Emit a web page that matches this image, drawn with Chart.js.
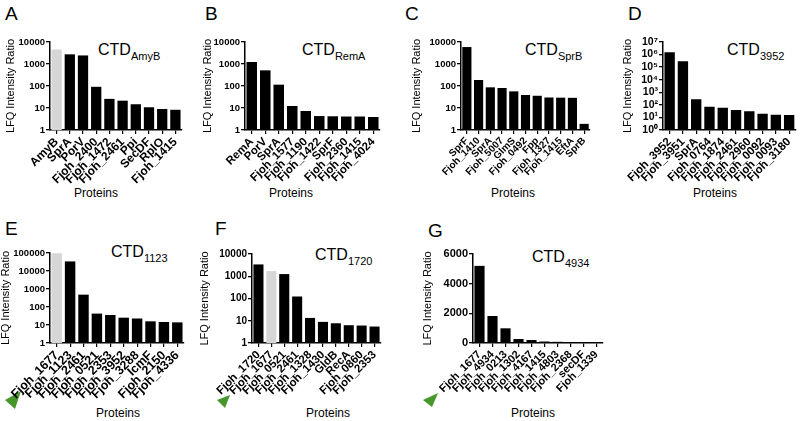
<!DOCTYPE html>
<html>
<head>
<meta charset="utf-8">
<script src="https://cdn.jsdelivr.net/npm/chart.js@4.4.1/dist/chart.umd.min.js"></script>
<style>
  body { margin: 0; background: #fff; }
  #wrap { position: relative; width: 800px; height: 421px; overflow: hidden; background: #fff; }
  #wrap canvas { position: absolute; }
  #overlay { position: absolute; left: 0; top: 0; pointer-events: none; }
  #overlay text { font-family: 'Liberation Sans', Arial, Helvetica, sans-serif; fill: #000; }
</style>
</head>
<body>
<div id="wrap">
  <svg id="overlay" width="800" height="421">
    <text x="5" y="20" font-size="19">A</text>
    <text x="205" y="20" font-size="19">B</text>
    <text x="405" y="20" font-size="19">C</text>
    <text x="628" y="20" font-size="19">D</text>
    <text x="5" y="235" font-size="19">E</text>
    <text x="215" y="235" font-size="19">F</text>
    <text x="428" y="237" font-size="19">G</text>

    <text x="98" y="55" font-size="16">CTD<tspan dy="5" font-size="11">AmyB</tspan></text>
    <text x="302" y="55" font-size="16">CTD<tspan dy="5" font-size="11">RemA</tspan></text>
    <text x="525" y="55" font-size="16">CTD<tspan dy="5" font-size="11">SprB</tspan></text>
    <text x="727" y="55" font-size="16">CTD<tspan dy="5" font-size="11">3952</tspan></text>
    <text x="111" y="257" font-size="16">CTD<tspan dy="5" font-size="11">1123</tspan></text>
    <text x="315" y="260" font-size="16">CTD<tspan dy="5" font-size="11">1720</tspan></text>
    <text x="532" y="262" font-size="16">CTD<tspan dy="5" font-size="11">4934</tspan></text>

    <text x="96" y="197" font-size="12" text-anchor="middle">Proteins</text>
    <text x="291" y="197" font-size="12" text-anchor="middle">Proteins</text>
    <text x="513" y="197" font-size="12" text-anchor="middle">Proteins</text>
    <text x="715" y="197" font-size="12" text-anchor="middle">Proteins</text>
    <text x="118" y="417" font-size="12" text-anchor="middle">Proteins</text>
    <text x="328" y="417" font-size="12" text-anchor="middle">Proteins</text>
    <text x="533" y="417" font-size="12" text-anchor="middle">Proteins</text>

    <polygon points="21,391 5,400 15,409" fill="#46962b"/>
    <polygon points="230,395 217,400 225,408" fill="#46962b"/>
    <polygon points="438,393 423,400 432,407" fill="#46962b"/>
  </svg>
</div>

<script>
// categories and values
const labelsA = ['AmyB', 'SprA', 'PorV', 'Fjoh_2400', 'Fjoh_1472', 'Fjoh_2461', 'Ppi', 'SecDF', 'RplO', 'Fjoh_1415'];
const valuesA = [4600, 2750, 2450, 92, 26, 21.5, 14.8, 10.8, 9, 8.3];

const labelsB = ['RemA', 'PorV', 'SprA', 'Fjoh_1577', 'Fjoh_1190', 'Fjoh_1422', 'SprF', 'Fjoh_2360', 'Fjoh_1415', 'Fjoh_4024'];
const valuesB = [1230, 515, 115, 12.3, 7.3, 4.3, 4.2, 4.1, 4.1, 3.9];

const labelsC = ['SprF', 'Fjoh_1410', 'SprA', 'Fjoh_5007', 'GlmS', 'Fjoh_0492', 'Fpp', 'Fjoh_1327', 'Fjoh_1415', 'EftA', 'SprB'];
const valuesC = [5900, 187, 87, 81, 57, 39, 36, 30, 29.5, 29, 1.9];

const labelsD = ['Fjoh_3952', 'Fjoh_3951', 'SprA', 'Fjoh_0764', 'Fjoh_1874', 'Fjoh_2461', 'Fjoh_2960', 'Fjoh_0092', 'Fjoh_0093', 'Fjoh_3180'];
const valuesD = [1500000, 290000, 280, 72, 60, 39, 31, 20, 16.5, 15.5];

const labelsE = ['Fjoh_1677', 'Fjoh_1123', 'Fjoh_2461', 'Fjoh_0521', 'Fjoh_2353', 'Fjoh_3952', 'Fjoh_3288', 'IcmF', 'Fjoh_2150', 'Fjoh_4336'];
const valuesE = [98000, 34000, 485, 43, 36, 25.5, 23, 16, 14.7, 14];

const labelsF = ['Fjoh_1720', 'Fjoh_1677', 'Fjoh_0521', 'Fjoh_2461', 'Fjoh_1328', 'Fjoh_1430', 'GldB', 'RecA', 'Fjoh_0860', 'Fjoh_2353'];
const valuesF = [3400, 1700, 1250, 123, 13.4, 8.9, 7.7, 6.3, 6.1, 5.5];

const labelsG = ['Fjoh_1677', 'Fjoh_4934', 'Fjoh_0213', 'Fjoh_1302', 'Fjoh_4167', 'Fjoh_1415', 'Fjoh_4803', 'Fjoh_2368', 'secDF', 'Fjoh_1339'];
const valuesG = [5200, 1820, 990, 270, 200, 100, 80, 60, 50, 40];

// tick values / labels
const ticks4 = [1, 10, 100, 1000, 10000];
const ticks5 = [1, 10, 100, 1000, 10000, 100000];
const ticks7 = [1, 10, 100, 1000, 10000, 100000, 1000000, 10000000];
const tickLabelsD = ['10\u2070', '10\u00b9', '10\u00b2', '10\u00b3', '10\u2074', '10\u2075', '10\u2076', '10\u2077'];
const ticksG = [0, 2000, 4000, 6000];

const FONT = "'Liberation Sans', Arial, Helvetica, sans-serif";
Chart.defaults.font.family = FONT;
Chart.defaults.color = '#000';

function makePanel(box, plot, labels, values, grayIndex, yOpts, sizes) {
    const [L, T, W, H] = box;
    const [x0, y0, x1, y1] = plot;
    const canvas = document.createElement('canvas');
    canvas.width = W;
    canvas.height = H;
    canvas.style.left = L + 'px';
    canvas.style.top = T + 'px';
    document.getElementById('wrap').appendChild(canvas);

    const colors = labels.map((_, i) => i === grayIndex ? '#d6d6d6' : '#000');

    const y = {
        min: yOpts.min,
        max: yOpts.max,
        type: yOpts.type,
        afterBuildTicks: s => { s.ticks = yOpts.ticks.map(v => ({ value: v })); },
        afterFit: s => { s.width = x0 - L; },
        ticks: {
            autoSkip: false,
            padding: 1,
            font: { size: sizes.yTick, weight: 'bold' },
            callback: yOpts.format
        },
        grid: { drawOnChartArea: false, drawTicks: true, tickLength: 4, color: '#000', lineWidth: 1.3 },
        border: { display: true, color: '#000', width: 1.5 },
        title: {
            display: true,
            text: 'LFQ Intensity Ratio',
            font: { size: 11 },
            padding: { top: sizes.titleX - L - 6.6, bottom: 0 }
        }
    };

    new Chart(canvas.getContext('2d'), {
        type: 'bar',
        data: {
            labels: labels,
            datasets: [{
                data: values,
                backgroundColor: colors,
                borderWidth: 0,
                barPercentage: 0.78,
                categoryPercentage: 1
            }]
        },
        options: {
            responsive: false,
            animation: false,
            layout: { padding: { left: 0, top: y0 - T, right: L + W - x1, bottom: 0 } },
            plugins: { legend: { display: false }, tooltip: { enabled: false } },
            scales: {
                x: {
                    afterFit: s => { s.height = T + H - y1; },
                    ticks: {
                        autoSkip: false,
                        minRotation: 45,
                        maxRotation: 45,
                        padding: 1,
                        font: { size: sizes.xTick, weight: 'bold' }
                    },
                    grid: { offset: false, drawOnChartArea: false, drawTicks: true, tickLength: 4, color: '#000', lineWidth: 1.2 },
                    border: { display: true, color: '#000', width: 1.5 }
                },
                y: y
            }
        }
    });
}

document.addEventListener('DOMContentLoaded', function() {
    const plain = v => String(v);
    const logY = (max, ticks) => ({ type: 'logarithmic', min: 1, max: max, ticks: ticks, format: plain });

    makePanel([0, 0, 195, 200], [50, 42, 182, 130], labelsA, valuesA, 0,
        logY(10000, ticks4), { yTick: 9.5, xTick: 12, titleX: 11 });
    makePanel([195, 0, 200, 200], [245, 42, 380, 130], labelsB, valuesB, -1,
        logY(10000, ticks4), { yTick: 9.5, xTick: 11.5, titleX: 208 });
    makePanel([395, 0, 200, 200], [461, 42, 590, 130], labelsC, valuesC, -1,
        logY(10000, ticks4), { yTick: 9.5, xTick: 10, titleX: 417 });
    makePanel([595, 0, 205, 200], [663, 42, 798, 130], labelsD, valuesD, -1,
        { type: 'logarithmic', min: 1, max: 10000000, ticks: ticks7, format: (v, i) => tickLabelsD[i] },
        { yTick: 10.5, xTick: 11.5, titleX: 628 });
    makePanel([0, 200, 195, 221], [50, 253, 184, 343], labelsE, valuesE, 0,
        logY(100000, ticks5), { yTick: 9.5, xTick: 12.5, titleX: 6 });
    makePanel([195, 200, 200, 221], [252, 254, 381, 343], labelsF, valuesF, 1,
        logY(10000, ticks4), { yTick: 10, xTick: 11.5, titleX: 205 });
    makePanel([395, 200, 215, 221], [473, 254, 603, 343], labelsG, valuesG, -1,
        { type: 'linear', min: 0, max: 6000, ticks: ticksG, format: plain },
        { yTick: 11, xTick: 11, titleX: 428 });
});
</script>
</body>
</html>
